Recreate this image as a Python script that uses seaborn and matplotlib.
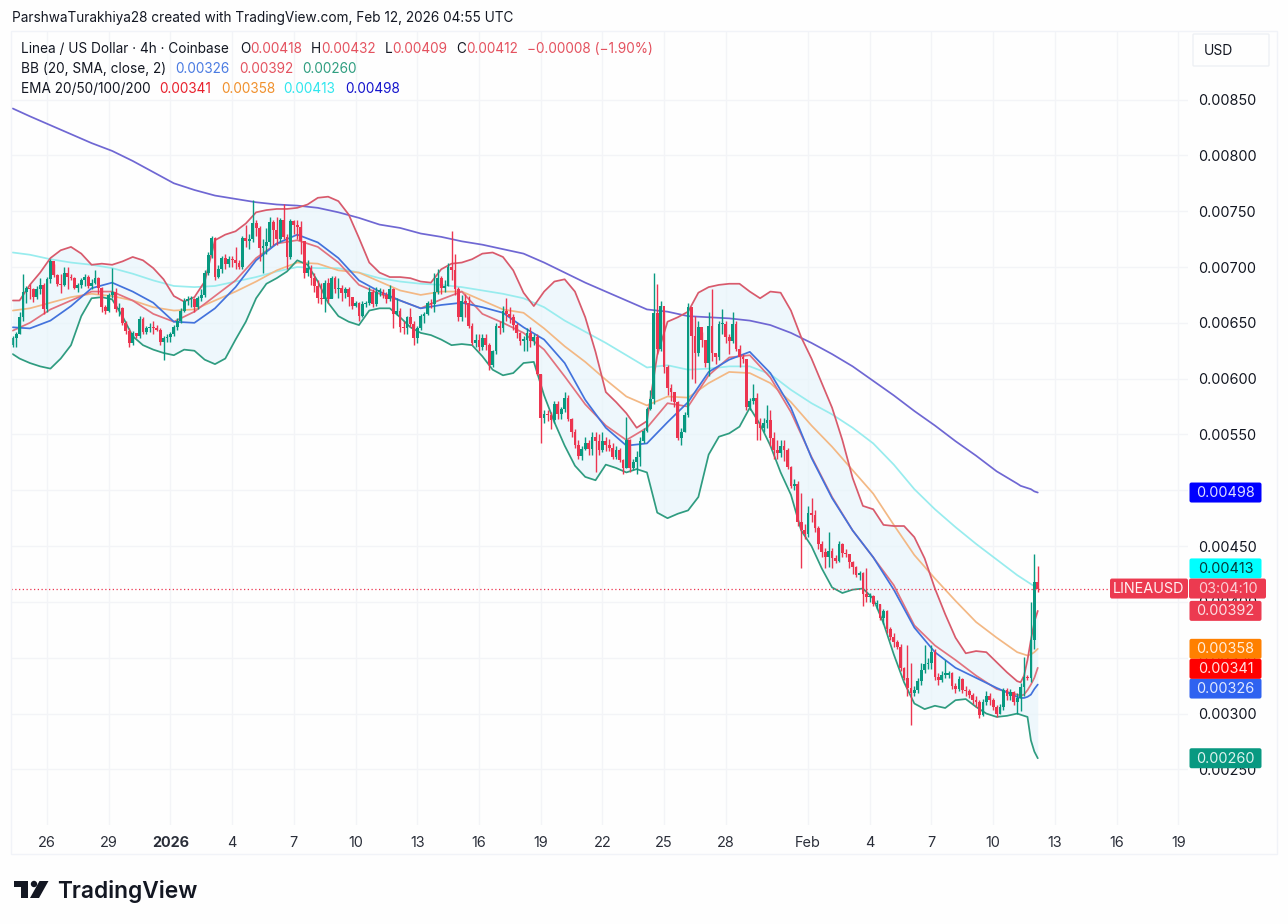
import numpy as np
import pandas as pd
import seaborn as sns
import matplotlib
matplotlib.use("Agg")
import matplotlib.pyplot as plt
import matplotlib.dates as mdates
from matplotlib.patches import FancyBboxPatch, Polygon, Circle, Rectangle
from matplotlib.transforms import IdentityTransform

# prices are in units of 0.00001, one row per day of 4h candles
first_open = 630
closes = [
    636, 640, 655, 678,
    681, 680, 673, 680, 684, 662,
    689, 705, 693, 685, 684, 695,
    691, 690, 681, 684, 688, 691,
    683, 686, 690, 681, 664, 661,
    675, 678, 662, 663, 650, 643,
    632, 641, 638, 653, 642, 645,
    646, 645, 644, 633, 636, 637,
    640, 646, 652, 661, 670, 671,
    671, 664, 672, 675, 695, 711,
    726, 691, 698, 708, 703, 707,
    706, 704, 700, 726, 723, 725,
    739, 735, 717, 719, 722, 740,
    733, 725, 742, 727, 709, 741,
    738, 736, 723, 695, 699, 690,
    683, 672, 671, 686, 671, 690,
    680, 681, 677, 680, 673, 665,
    668, 656, 667, 668, 678, 667,
    678, 678, 675, 671, 680, 658,
    661, 646, 645, 655, 649, 636,
    645, 656, 658, 668, 667, 678,
    690, 681, 683, 700, 697, 680,
    655, 670, 668, 647, 632, 635,
    628, 636, 630, 612, 625, 647,
    645, 661, 658, 655, 648, 641,
    634, 635, 641, 634, 637, 604,
    565, 568, 567, 563, 577, 568,
    573, 583, 564, 552, 541, 531,
    537, 542, 537, 548, 544, 536,
    544, 541, 538, 530, 536, 527,
    520, 545, 520, 525, 530, 544,
    553, 573, 582, 659, 627, 665,
    610, 592, 588, 579, 547, 552,
    567, 664, 638, 623, 646, 635,
    614, 647, 623, 619, 649, 649,
    637, 634, 649, 627, 619, 618,
    575, 580, 583, 559, 556, 560,
    563, 547, 536, 533, 540, 536,
    521, 504, 506, 472, 464, 461,
    480, 478, 466, 452, 445, 440,
    446, 439, 437, 452, 444, 443,
    436, 431, 424, 426, 407, 404,
    405, 398, 398, 386, 392, 376,
    369, 364, 360, 341, 332, 323,
    318, 321, 329, 339, 344, 345,
    355, 333, 330, 335, 335, 336,
    325, 322, 331, 321, 320, 317,
    312, 310, 299, 310, 316, 312,
    306, 300, 306, 321, 316, 319,
    310, 314, 324, 333, 332, 366,
    418, 412,
]
highs = [
    638, 642, 660, 694,
    683, 685, 681, 683, 690, 686,
    691, 707, 703, 694, 694, 700,
    700, 694, 691, 686, 690, 694,
    693, 689, 697, 691, 682, 666,
    677, 699, 681, 668, 664, 652,
    645, 643, 641, 656, 655, 647,
    650, 652, 648, 645, 638, 640,
    642, 648, 654, 663, 672, 674,
    674, 672, 674, 680, 697, 713,
    728, 727, 702, 710, 712, 710,
    710, 718, 706, 728, 738, 730,
    760, 742, 737, 725, 735, 745,
    742, 745, 744, 756, 730, 743,
    742, 742, 741, 720, 706, 702,
    695, 688, 686, 688, 690, 692,
    692, 690, 684, 682, 682, 668,
    670, 669, 670, 670, 682, 680,
    682, 681, 680, 678, 684, 681,
    672, 663, 652, 656, 663, 652,
    647, 658, 660, 670, 671, 695,
    698, 692, 688, 704, 732, 712,
    682, 675, 676, 674, 650, 640,
    640, 640, 640, 632, 626, 650,
    652, 665, 672, 664, 658, 650,
    642, 638, 645, 646, 640, 640,
    604, 572, 572, 570, 580, 580,
    575, 588, 585, 565, 555, 545,
    540, 548, 545, 552, 552, 550,
    552, 548, 546, 542, 540, 538,
    528, 566, 546, 528, 535, 548,
    556, 575, 590, 695, 685, 670,
    660, 612, 595, 588, 580, 556,
    570, 668, 654, 656, 652, 642,
    632, 660, 680, 622, 652, 662,
    652, 640, 660, 652, 630, 622,
    615, 583, 595, 587, 565, 565,
    576, 572, 552, 545, 545, 545,
    538, 522, 510, 508, 498, 470,
    486, 493, 482, 468, 455, 448,
    463, 448, 442, 455, 453, 447,
    443, 437, 432, 428, 427, 430,
    408, 406, 402, 398, 394, 393,
    378, 372, 366, 362, 342, 361,
    345, 325, 332, 345, 361, 350,
    361, 358, 336, 338, 348, 338,
    337, 327, 334, 332, 325, 322,
    318, 316, 312, 313, 320, 318,
    314, 308, 309, 323, 323, 322,
    320, 318, 327, 351, 335, 400,
    443, 432,
]
lows = [
    628, 628, 640, 652,
    668, 671, 669, 671, 676, 658,
    660, 686, 691, 683, 677, 683,
    680, 688, 680, 678, 681, 683,
    681, 680, 685, 676, 660, 658,
    660, 672, 660, 656, 648, 640,
    628, 630, 636, 636, 640, 640,
    642, 640, 643, 630, 617, 633,
    633, 638, 644, 650, 660, 666,
    664, 660, 662, 670, 673, 693,
    708, 688, 690, 695, 698, 700,
    700, 698, 698, 698, 718, 716,
    722, 728, 705, 695, 712, 718,
    720, 720, 722, 725, 698, 707,
    730, 725, 712, 690, 692, 684,
    678, 668, 667, 660, 668, 672,
    677, 672, 670, 672, 665, 662,
    664, 652, 655, 664, 666, 664,
    665, 674, 672, 668, 670, 645,
    657, 642, 640, 640, 646, 630,
    632, 644, 650, 657, 663, 660,
    676, 676, 678, 683, 688, 675,
    652, 652, 655, 645, 630, 628,
    625, 626, 626, 608, 610, 622,
    640, 642, 652, 650, 644, 636,
    630, 625, 625, 628, 630, 603,
    542, 560, 562, 555, 560, 564,
    564, 570, 562, 548, 538, 528,
    527, 536, 532, 532, 516, 532,
    534, 535, 535, 528, 528, 525,
    515, 520, 516, 518, 515, 522,
    542, 552, 572, 577, 622, 625,
    605, 585, 580, 575, 545, 541,
    552, 566, 600, 596, 620, 628,
    610, 602, 616, 613, 617, 640,
    632, 622, 632, 625, 610, 614,
    572, 572, 577, 545, 545, 552,
    556, 540, 528, 528, 530, 526,
    519, 502, 500, 468, 430, 456,
    458, 472, 463, 447, 440, 430,
    431, 430, 435, 436, 440, 440,
    430, 425, 422, 420, 396, 400,
    400, 396, 394, 384, 380, 372,
    366, 360, 358, 338, 330, 316,
    290, 316, 318, 326, 336, 340,
    340, 330, 326, 328, 332, 332,
    322, 318, 320, 318, 316, 314,
    309, 306, 296, 298, 308, 308,
    303, 297, 300, 303, 312, 312,
    308, 300, 302, 316, 330, 328,
    358, 409,
]

# indicator readings, one a day and every candle over the last day
ema200 = [842, 835, 827, 819, 811, 804, 795, 785, 775, 769,
          764, 761, 758, 756, 755, 753, 749, 744, 738, 735,
          730, 727, 723, 720, 716, 712, 704, 695, 686, 678,
          670, 662, 660, 656, 655, 654, 652, 648, 641, 632,
          622, 611, 598, 585, 571, 558, 544, 531, 517, 506,
          504, 503, 502, 501, 499, 498]
ema100 = [713, 711, 707, 704, 702, 699, 694, 688, 683, 682,
          683, 687, 691, 696, 700, 699, 699, 695, 690, 687,
          685, 684, 682, 679, 676, 672, 664, 652, 642, 632,
          621, 610, 612, 608, 609, 611, 611, 604, 590, 578,
          568, 556, 542, 523, 501, 483, 467, 452, 438, 424,
          422, 420, 418, 416, 414, 413]
ema50 = [661, 663, 668, 673, 676, 674, 670, 664, 661, 662,
         670, 678, 687, 697, 704, 703, 697, 695, 687, 679,
         675, 678, 678, 670, 662, 659, 645, 629, 615, 599,
         584, 576, 584, 583, 596, 606, 605, 596, 579, 558,
         539, 518, 497, 469, 442, 421, 401, 382, 368, 355,
         354, 353, 352, 353, 355, 358]
ema20 = [643, 650, 662, 670, 678, 678, 670, 658, 651, 660,
         674, 688, 708, 721, 724, 718, 704, 684, 676, 670,
         663, 671, 678, 658, 650, 641, 626, 602, 577, 558,
         545, 556, 578, 575, 603, 619, 621, 601, 570, 530,
         494, 464, 440, 415, 379, 361, 348, 334, 322, 317,
         316, 317, 321, 326, 332, 341]
bb_basis = [646, 645, 652, 665, 681, 686, 678, 668, 651, 650,
            663, 682, 706, 721, 729, 722, 708, 688, 678, 670,
            663, 666, 668, 664, 659, 646, 635, 614, 581, 556,
            540, 542, 561, 579, 606, 617, 624, 605, 574, 529,
            493, 464, 440, 411, 377, 355, 341, 332, 323, 315,
            314, 314, 315, 317, 322, 326]
# the bands move faster, so they are read twice a day
bb_upper = [670, 670, 684, 695, 708, 715, 718, 712, 702, 703,
            702, 705, 709, 706, 699, 689, 674, 669, 673, 687,
            724, 729, 732, 739, 749, 751, 752, 752, 753, 756,
            762, 763, 759, 747, 726, 704, 695, 691, 691, 690,
            687, 686, 698, 703, 704, 707, 712, 713, 709, 697,
            677, 665, 678, 687, 689, 678, 655, 624, 588, 579,
            569, 556, 562, 621, 651, 655, 660, 677, 682, 684,
            685, 685, 678, 672, 678, 677, 661, 637, 618, 596,
            574, 545, 511, 486, 483, 469, 468, 468, 458, 439,
            412, 389, 368, 354, 356, 355, 346, 337, 329,
            328, 334, 348, 366, 382, 392]
bb_lower = [622, 618, 614, 611, 609, 618, 630, 656, 672, 673,
            671, 656, 638, 630, 626, 623, 621, 626, 625, 617,
            613, 618, 635, 651, 672, 685, 690, 696, 706, 702,
            687, 668, 656, 651, 648, 661, 663, 663, 655, 646,
            641, 639, 635, 630, 631, 630, 620, 608, 603, 605,
            614, 615, 585, 561, 540, 522, 512, 509, 523, 520,
            516, 519, 516, 480, 475, 479, 482, 494, 532, 548,
            551, 557, 574, 559, 540, 516, 496, 464, 450, 430,
            413, 408, 411, 412, 403, 381, 353, 328, 309, 304,
            307, 305, 312, 313, 306, 300, 297, 298, 300,
            299, 298, 297, 276, 266, 260]

price_ticks = [250, 300, 350, 400, 450, 500, 550, 600, 650, 700, 750, 800, 850]
time_ticks = ["2025-12-26", "2025-12-29", "2026-01-01", "2026-01-04", "2026-01-07",
              "2026-01-10", "2026-01-13", "2026-01-16", "2026-01-19", "2026-01-22",
              "2026-01-25", "2026-01-28", "2026-02-01", "2026-02-04", "2026-02-07",
              "2026-02-10", "2026-02-13", "2026-02-16", "2026-02-19"]
time_labels = ["26", "29", "2026", "4", "7", "10", "13", "16", "19", "22",
               "25", "28", "Feb", "4", "7", "10", "13", "16", "19"]

UP = "#089981"
DOWN = "#ec3550"
TEXT = "#131722"
GRID = "#f3f4f7"
W, H = 1288, 924

sns.set_theme(style="white")
plt.rcParams["font.family"] = ["Inter", "DejaVu Sans"]

fig = plt.figure(figsize=(W / 100, H / 100), dpi=100, facecolor="#fefefe")
ax = fig.add_axes([11 / W, 1 - 825 / H, (1188 - 11) / W, (825 - 31) / H], facecolor="none")

scale = 1e-5
tail_times = pd.date_range("2026-02-11 08:00", periods=6, freq="4h")
candle_times = pd.date_range(end="2026-02-12 04:00", periods=len(closes), freq="4h")
line_times = pd.DatetimeIndex(["2025-12-24 08:00"]).append(
    pd.date_range("2025-12-25 04:00", "2026-02-11 04:00", freq="D")).append(tail_times)
band_times = pd.DatetimeIndex(["2025-12-24 08:00", "2025-12-24 16:00"]).append(
    pd.date_range("2025-12-25 04:00", "2026-02-11 04:00", freq="12h")).append(tail_times)
assert len(closes) == 300 and len(highs) == 300 and len(lows) == 300
for vals in (ema200, ema100, ema50, ema20, bb_basis):
    assert len(vals) == len(line_times)
assert len(bb_upper) == len(band_times) and len(bb_lower) == len(band_times)

c = np.array(closes) * scale
o = np.r_[first_open * scale, c[:-1]]
hi = np.array(highs) * scale
lo = np.array(lows) * scale

ax.fill_between(band_times, np.array(bb_lower) * scale, np.array(bb_upper) * scale,
                color="#e6f4fb", alpha=0.65, lw=0, zorder=1)

for times, vals, col in [(line_times, ema200, "#6f67d3"), (line_times, ema100, "#98ecee"),
                         (line_times, ema50, "#f3b884"), (line_times, ema20, "#e2727e"),
                         (line_times, bb_basis, "#4272dc"),
                         (band_times, bb_upper, "#d85a6c"), (band_times, bb_lower, "#2f9c80")]:
    sns.lineplot(x=times, y=np.array(vals) * scale, color=col, lw=1.25,
                 errorbar=None, ax=ax, zorder=2)

colors = np.where(c >= o, UP, DOWN)
ax.vlines(candle_times, lo, hi, colors=colors, lw=1.0, zorder=3)
ax.bar(candle_times, np.maximum(np.abs(c - o), 1.2 * scale), bottom=np.minimum(o, c),
       width=0.135, color=colors, lw=0, zorder=3)

x0 = mdates.date2num(pd.Timestamp("2025-12-26"))
ax.set_xlim(x0 - 1.75, x0 + 55.47)
ax.set_ylim(200.2 * scale, 911.4 * scale)

ax.set_yticks(np.array(price_ticks) * scale)
ax.set_yticklabels([f"{p * scale:.5f}" for p in price_ticks])
ax.yaxis.tick_right()
ax.set_xticks(mdates.date2num(pd.to_datetime(time_ticks)))
ax.set_xticklabels(time_labels)
ax.set_xlabel("")
ax.set_ylabel("")
ax.tick_params(axis="y", length=0, pad=7, labelsize=10.4, labelcolor=TEXT)
ax.tick_params(axis="x", length=0, pad=8, labelsize=10.4, labelcolor="#2a2e39")
for lab in ax.get_xticklabels():
    if lab.get_text() == "2026":
        lab.set_fontweight("bold")
ax.grid(True, color=GRID, lw=1)
ax.set_axisbelow(True)
sns.despine(ax=ax, left=True, bottom=True, right=True, top=True)

px = IdentityTransform()
fig.canvas.draw()


def tag(value, label, bg, fg, x=1189.5, w=72, shift=0):
    # shift: the chart pushes crowded tags apart, in pixels upward
    yc = ax.transData.transform((0, value * scale))[1] + shift
    r = 2
    ax.add_patch(FancyBboxPatch((x + r, yc - 10 + r), w - 2 * r, 20 - 2 * r,
                                boxstyle=f"round,pad={r}", transform=px, fc=bg, ec="none",
                                zorder=10, clip_on=False))
    ax.text(x + w / 2, yc - 0.5, label, transform=px, ha="center", va="center", color=fg,
            fontsize=10.4, zorder=11, clip_on=False)


# last price line, stops at the symbol tag
ax.axhline(412 * scale, xmin=0, xmax=(1110 - 11) / (1188 - 11), color=DOWN, lw=0.9, ls=(0, (1, 2)), zorder=4)

tag(498, "0.00498", "#0000ff", "#dcdcff")
tag(413, "0.00413", "#00ffff", "#063b3b", shift=19)
tag(392, "0.00392", "#ec3a50", "#fbdde1")
tag(358, "0.00358", "#ff8000", "#ffeeda")
tag(326, "0.00326", "#2f62f0", "#e2e9ff", shift=-4)
tag(341, "0.00341", "#ff0000", "#ffe0e0", shift=-1)
tag(260, "0.00260", "#089981", "#ddf3ee")
tag(412, "LINEAUSD", "#ec3a50", "#fff0f2", x=1110, w=78)
tag(412, "03:04:10", "#ec3a50", "#fbd0d6", x=1189, w=77)


def fy(y):
    return H - y


# pane frame and the unit box
fig.add_artist(Rectangle((11, fy(854)), 1277 - 11, 854 - 31, transform=px, fc="none", ec="#f1f3f8", lw=1))
fig.add_artist(FancyBboxPatch((1194, fy(65)), 74, 30, boxstyle="round,pad=1", transform=px,
                              fc="#fefefe", ec="#eef0f4", lw=1, zorder=5))
fig.text(1218 / W, 1 - 51 / H, "USD", ha="center", va="center", fontsize=10, color=TEXT, zorder=6)

fig.text(12 / W, 1 - 18 / H, "ParshwaTurakhiya28 created with TradingView.com, Feb 12, 2026 04:55 UTC",
         va="center", fontsize=9.8, color=TEXT)

RED = "#e4525f"
rows = [
    (49, [(21, "Linea / US Dollar · 4h · Coinbase", TEXT), (240, "O", TEXT), (250, "0.00418", RED),
          (311, "H", TEXT), (321, "0.00432", RED), (385, "L", TEXT), (392, "0.00409", RED),
          (456, "C", TEXT), (466, "0.00412", RED), (527, "−0.00008 (−1.90%)", RED)]),
    (69, [(21, "BB (20, SMA, close, 2)", TEXT), (175, "0.00326", "#4a7be2"), (239, "0.00392", RED),
          (302, "0.00260", "#2f9e80")]),
    (89, [(21, "EMA 20/50/100/200", TEXT), (159, "0.00341", "#e8202c"), (221, "0.00358", "#f0902c"),
          (283, "0.00413", "#2fe6ee"), (345, "0.00498", "#1414cc")]),
]
for y, parts in rows:
    for x, s, col in parts:
        fig.text(x / W, 1 - y / H, s, va="center", fontsize=9.8, color=col)

# TradingView logo
logo = "#131722"
fig.add_artist(Polygon([(14, fy(881)), (28, fy(881)), (28, fy(898)), (21, fy(898)), (21, fy(887)), (14, fy(887))],
                       transform=px, fc=logo, ec="none"))
fig.add_artist(Circle((34, fy(884)), 3.2, transform=px, fc=logo, ec="none"))
fig.add_artist(Polygon([(39.5, fy(881)), (48.5, fy(881)), (39, fy(898)), (30, fy(898))],
                       transform=px, fc=logo, ec="none"))
fig.text(57 / W, 1 - 898 / H, "TradingView", va="baseline", fontsize=16.4, fontweight="semibold", color=logo)

fig.savefig("out.png", dpi=100, facecolor=fig.get_facecolor())
